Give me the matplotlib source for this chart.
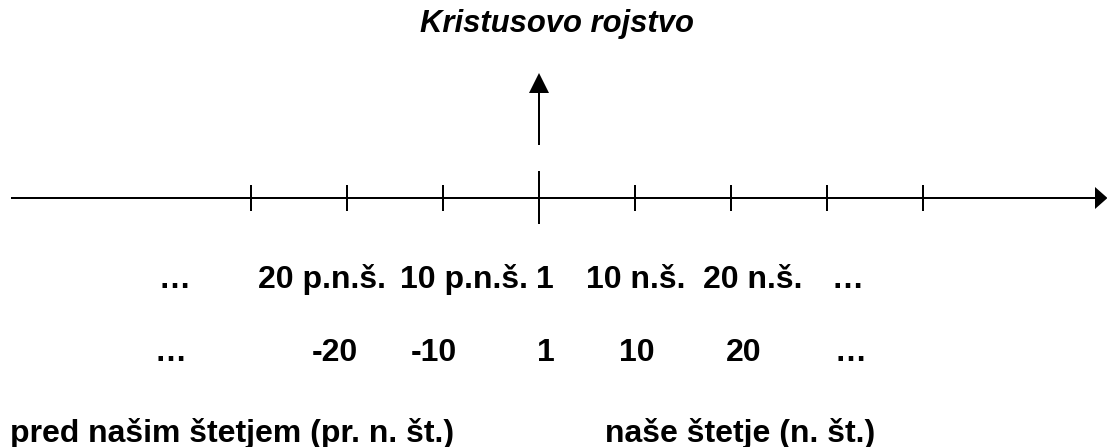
import matplotlib
matplotlib.use("Agg")
import matplotlib.pyplot as plt

# ---- data ----
title = "Kristusovo rojstvo"
tick_years = [-30, -20, -10, 0, 10, 20, 30, 40]
row1_labels = ["…", "20 p.n.š.", "10 p.n.š.", "1", "10 n.š.", "20 n.š.", "…"]
row2_labels = ["…", "-20", "-10", "1", "10", "20", "…"]
era_labels = ["pred našim štetjem (pr. n. št.)", "naše štetje (n. št.)"]

# ---- layout (years on x, pixel rows on y) ----
W, H = 1107, 447
PX_PER_YEAR = 9.6
ORIGIN_PX = 539
x0 = -ORIGIN_PX / PX_PER_YEAR
x1 = (W - ORIGIN_PX) / PX_PER_YEAR
row1_pos = [-38.0, -22.6, -7.8, 0.6, 10.05, 22.3, 32.1]
row2_pos = [-38.4, -21.25, -10.9, 0.7, 10.2, 21.35, 32.4]
era_pos = [-55.1, 6.9]

AXIS_Y = 198
LW = 1.44
FONT = "Liberation Sans"
FS = 23

fig = plt.figure(figsize=(W / 100, H / 100), dpi=100)
ax = fig.add_axes([0, 0, 1, 1])
ax.set_xlim(x0, x1)
ax.set_ylim(H, 0)
ax.axis("off")

# main timeline
head_len = 12 / PX_PER_YEAR
ax.plot([-55.0, x1 - head_len], [AXIS_Y, AXIS_Y], color="black", lw=LW, solid_capstyle="butt")
ax.fill([x1 - head_len, x1 + 0.05, x1 - head_len], [AXIS_Y - 11, AXIS_Y, AXIS_Y + 11],
        color="black", lw=0)

# ticks
for yr in tick_years:
    if yr == 0:
        ax.plot([yr, yr], [AXIS_Y - 27, AXIS_Y + 26], color="black", lw=LW, solid_capstyle="butt")
    else:
        ax.plot([yr, yr], [AXIS_Y - 13, AXIS_Y + 13], color="black", lw=LW, solid_capstyle="butt")

# vertical arrow for the birth of Christ
ax.plot([0, 0], [145, 92], color="black", lw=LW, solid_capstyle="butt")
hw = 10 / PX_PER_YEAR
ax.fill([-hw, 0, hw], [93, 73, 93], color="black", lw=0)

# title
ax.text(1.85, 32, title, ha="center", va="baseline", fontsize=22.3, fontweight="bold",
        fontstyle="italic", family=FONT)

for lab, p in zip(row1_labels, row1_pos):
    ax.text(p, 288, lab, ha="center", va="baseline", fontsize=FS, fontweight="bold", family=FONT)
for lab, p in zip(row2_labels, row2_pos):
    ax.text(p, 361, lab, ha="center", va="baseline", fontsize=FS, fontweight="bold", family=FONT)
for lab, p in zip(era_labels, era_pos):
    ax.text(p, 442, lab, ha="left", va="baseline", fontsize=FS, fontweight="bold", family=FONT)

fig.savefig("out.png", dpi=100)
